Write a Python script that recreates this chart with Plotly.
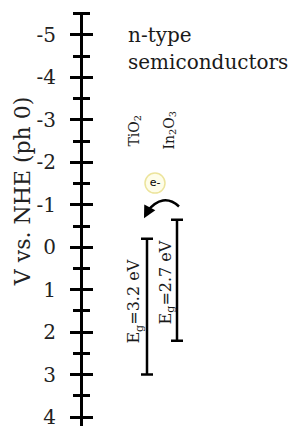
import plotly.graph_objects as go

# ---- data ----
materials = ["TiO<sub>2</sub>", "In<sub>2</sub>O<sub>3</sub>"]
cb_edges = [-0.2, -0.65]          # conduction band edge (V vs NHE)
vb_edges = [3.0, 2.2]             # valence band edge (V vs NHE)
gap_labels = ["E<sub>g</sub>=3.2 eV", "E<sub>g</sub>=2.7 eV"]
x_pos = [64, 94]                  # horizontal slot of each material
tick_values = [-5, -4, -3, -2, -1, 0, 1, 2, 3, 4]
tick_text = ["-5", "-4", "-3", "-2", "-1", "0", "1", "2", "3", "4"]
y_title = "V vs. NHE (ph 0)"

SERIF = "DejaVu Serif"
INK = "#1a1a1a"

fig = go.Figure()

mids = [(a + b) / 2 for a, b in zip(cb_edges, vb_edges)]
halves = [(b - a) / 2 for a, b in zip(cb_edges, vb_edges)]
fig.add_trace(go.Scatter(
    x=x_pos, y=mids, mode="markers",
    marker=dict(size=0.1, color="black"),
    error_y=dict(type="data", array=halves, visible=True, width=6,
                 thickness=2.5, color="black"),
    hoverinfo="skip", showlegend=False))

# dummy trace for the inside-tick axis
fig.add_trace(go.Scatter(x=[None], y=[None], yaxis="y2", showlegend=False,
                         hoverinfo="skip"))

# e- bubble
fig.add_trace(go.Scatter(
    x=[72], y=[-1.51], mode="markers+text", text=["e-"],
    textposition="middle center",
    textfont=dict(family="DejaVu Sans", size=11, color="black"),
    marker=dict(size=20, color="#fefde9", line=dict(color="#ece49c", width=1.5)),
    hoverinfo="skip", showlegend=False))

# curved arrow from In2O3 CB to TiO2 CB
fig.add_shape(type="path", xref="x", yref="y",
              path="M 96,-0.96 Q 80,-1.3 64,-0.84",
              line=dict(color="black", width=2.5))
fig.add_annotation(x=61, y=-0.68, ax=65, ay=-0.86, xref="x", yref="y",
                   axref="x", ayref="y", showarrow=True, arrowhead=2,
                   arrowsize=1, arrowwidth=2.5, arrowcolor="black", text="")

# labels
fig.add_annotation(x=52, y=1.28, text=gap_labels[0], textangle=-90,
                   showarrow=False, font=dict(family=SERIF, size=16, color=INK))
fig.add_annotation(x=83, y=0.83, text=gap_labels[1], textangle=-90,
                   showarrow=False, font=dict(family=SERIF, size=16, color=INK))
fig.add_annotation(x=52, y=-2.75, text=materials[0], textangle=-90,
                   showarrow=False, font=dict(family=SERIF, size=14, color=INK))
fig.add_annotation(x=87, y=-2.75, text=materials[1], textangle=-90,
                   showarrow=False, font=dict(family=SERIF, size=14, color=INK))
fig.add_annotation(x=43, y=-5.0, text="n-type", showarrow=False,
                   xanchor="left", yanchor="middle", align="left",
                   font=dict(family=SERIF, size=20, color=INK))
fig.add_annotation(x=43, y=-4.36, text="semiconductors", showarrow=False,
                   xanchor="left", yanchor="middle", align="left",
                   font=dict(family=SERIF, size=20, color=INK))
fig.add_annotation(x=-0.29, xref="paper", y=-1.3, yref="y", text=y_title,
                   textangle=-90, showarrow=False, xanchor="center",
                   yanchor="middle",
                   font=dict(family=SERIF, size=22, color="#222"))

axis_common = dict(range=[4.21, -5.54], tickmode="array", tickvals=tick_values,
                   showgrid=False, zeroline=False, showline=True, linewidth=3,
                   linecolor="black", tickwidth=3, tickcolor="black", ticklen=10,
                   automargin=False)

fig.update_layout(
    width=293, height=426,
    margin=dict(l=83, r=0, t=12, b=0),
    paper_bgcolor="white", plot_bgcolor="white",
    xaxis=dict(range=[0, 210], visible=False, automargin=False),
    yaxis=dict(**axis_common, ticktext=tick_text, ticks="outside",
               ticklabelstandoff=10, ticklabeloverflow="allow",
               tickfont=dict(family=SERIF, size=20, color="#222"),
               minor=dict(ticks="outside", ticklen=7, tickwidth=3, dtick=0.5,
                          tick0=0, tickcolor="black")),
    yaxis2=dict(**axis_common, overlaying="y", side="left", ticks="inside",
                showticklabels=False,
                minor=dict(ticks="inside", ticklen=7, tickwidth=3, dtick=0.5,
                           tick0=0, tickcolor="black")),
)

fig.write_html("out.html", config={"displayModeBar": False},
               post_script="document.body.style.margin='0';document.body.style.overflow='hidden';")
